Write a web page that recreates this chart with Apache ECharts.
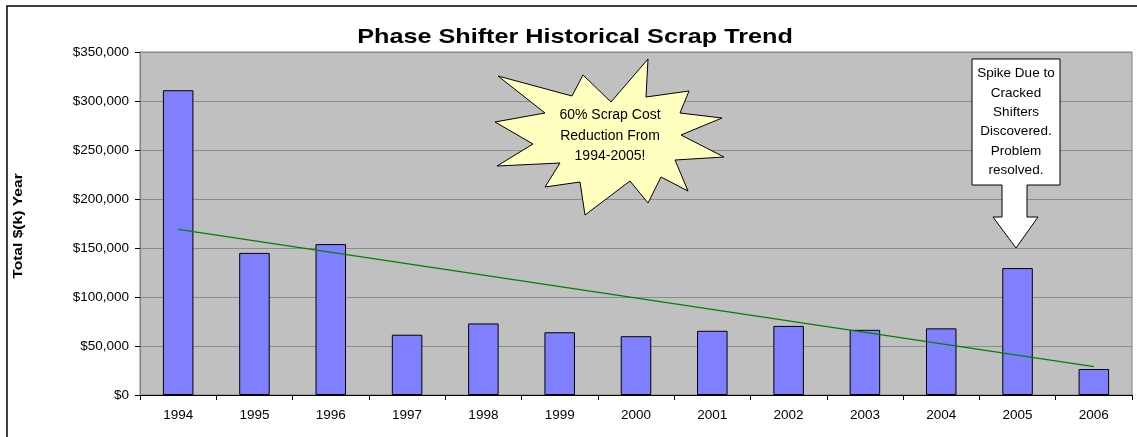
<!DOCTYPE html>
<html>
<head>
<meta charset="utf-8">
<script src="https://cdn.jsdelivr.net/npm/echarts@6/dist/echarts.min.js"></script>
<style>html,body{margin:0;padding:0;background:#fff;}#c{width:1137px;height:437px;}</style>
</head>
<body>
<div id="c"></div>
<script>
const years = ['1994','1995','1996','1997','1998','1999','2000','2001','2002','2003','2004','2005','2006'];
const scrapCost = [311000,145000,154000,61500,73000,64000,60000,65500,70500,66500,68000,129500,26500];
const trendStart = 169000;
const trendEnd = 29000;
const yTicks = { min: 0, max: 350000, interval: 50000 };

const trendData = years.map((y, i) => i === 0 ? trendStart : (i === years.length - 1 ? trendEnd : null));

const chart = echarts.init(document.getElementById('c'), null, { renderer: 'canvas' });
const font = 'Liberation Sans, Arial, sans-serif';

const starPts = [[648,59],[646,97],[689,91],[680,113],[722,118],[681,135],[724,157],[675,160],[688,191],[661,177],[648,203],[630,181],[585,215],[580,182],[545,187],[560,163],[497,166],[533,144],[495,122],[545,113],[498,76],[572,96],[583,75],[611,102]];
const calloutPts = [[972,59],[1060,59],[1060,185],[1027,185],[1027,217],[1038,217],[1016,248],[993,217],[1002,217],[1002,185],[972,185]];

chart.setOption({
  animation: false,
  backgroundColor: '#ffffff',
  grid: {
    left: 140, right: 5, top: 52, bottom: 42,
    show: true, backgroundColor: '#c0c0c0', borderColor: '#808080', borderWidth: 1
  },
  xAxis: {
    type: 'category',
    data: years,
    boundaryGap: true,
    axisLine: { lineStyle: { color: '#000', width: 1 } },
    axisTick: { show: true, alignWithLabel: false, length: 5, lineStyle: { color: '#000' } },
    axisLabel: { fontFamily: font, fontSize: 13.5, color: '#000', margin: 13 }
  },
  yAxis: {
    type: 'value',
    min: yTicks.min, max: yTicks.max, interval: yTicks.interval,
    axisLine: { show: true, lineStyle: { color: '#808080', width: 1 } },
    axisTick: { show: true, length: 5, lineStyle: { color: '#000' } },
    splitLine: { show: true, lineStyle: { color: '#8c8c8c', width: 1 } },
    axisLabel: {
      fontFamily: font, fontSize: 13.5, color: '#000', margin: 11,
      formatter: v => '$' + v.toLocaleString('en-US')
    }
  },
  series: [
    {
      type: 'bar',
      data: scrapCost,
      barWidth: '40%',
      itemStyle: { color: '#8080ff', borderColor: '#000', borderWidth: 1 }
    },
    {
      type: 'line',
      data: trendData,
      connectNulls: true,
      symbol: 'none',
      lineStyle: { color: '#008000', width: 1.3 },
      z: 3
    }
  ],
  graphic: [
    { type: 'polyline', shape: { points: [[7,437],[7,6],[1137,6]] }, style: { stroke: '#000', lineWidth: 1.5, fill: null }, z: 10 },
    { type: 'text', x: 575, y: 37, scaleX: 1.2, style: { text: 'Phase Shifter Historical Scrap Trend', fontFamily: font, fontSize: 21, fontWeight: 'bold', fill: '#000', align: 'center', verticalAlign: 'middle' }, z: 10 },
    { type: 'text', x: 19, y: 226, rotation: Math.PI / 2, scaleX: 1.3, style: { text: 'Total $(k) Year', fontFamily: font, fontSize: 12, fontWeight: 'bold', fill: '#000', align: 'center', verticalAlign: 'middle' }, z: 10 },
    { type: 'polygon', shape: { points: starPts }, style: { fill: '#ffffc0', stroke: '#000', lineWidth: 1 }, z: 20 },
    { type: 'text', x: 610, y: 136, style: { text: '60% Scrap Cost\nReduction From\n1994-2005!', fontFamily: font, fontSize: 14, lineHeight: 20.5, fill: '#000', align: 'center', verticalAlign: 'middle' }, z: 21 },
    { type: 'polygon', shape: { points: calloutPts }, style: { fill: '#ffffff', stroke: '#000', lineWidth: 1 }, z: 20 },
    { type: 'text', x: 1016, y: 122, style: { text: 'Spike Due to\nCracked\nShifters\nDiscovered.\nProblem\nresolved.', fontFamily: font, fontSize: 13.5, lineHeight: 19.4, fill: '#000', align: 'center', verticalAlign: 'middle' }, z: 21 }
  ]
});
</script>
</body>
</html>
